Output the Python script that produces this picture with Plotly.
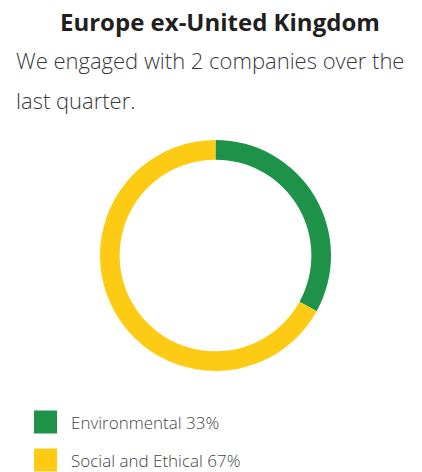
import plotly.graph_objects as go

title_text = "Europe ex-United Kingdom"
subtitle_lines = ["We engaged with 2 companies over the", "last quarter."]
labels = ["Environmental", "Social and Ethical"]
values = [33, 67]
colors = ["#1F924A", "#FDCB14"]

W, H = 422, 472
OFF = 8  # page body margin
cx, cy, r = 215.5 - OFF, 255.5 - OFF, 115.5


def px(x):
    return (x - OFF) / W


def py(y):
    return 1 - (y - OFF) / H


fig = go.Figure()
fig.add_trace(go.Pie(
    labels=labels, values=values, hole=0.83, sort=False, direction="clockwise",
    rotation=0, textinfo="none", hoverinfo="label+percent",
    marker=dict(colors=colors, line=dict(width=0)),
    domain=dict(x=[(cx - r) / W, (cx + r) / W], y=[1 - (cy + r) / H, 1 - (cy - r) / H]),
    showlegend=False,
))

annotations = [
    dict(text=f"<b>{title_text}</b>", x=px(220), y=py(21), xref="paper", yref="paper",
         showarrow=False, xanchor="center", yanchor="middle",
         font=dict(family="Open Sans", size=24, color="#231F20")),
]
for i, line in enumerate(subtitle_lines):
    annotations.append(dict(text=line, x=px(14), y=py(60 + 40 * i), xref="paper", yref="paper",
                            showarrow=False, xanchor="left", yanchor="middle",
                            font=dict(family="Open Sans", size=22, color="#3A3A3A", weight=300)))

shapes = []
for i, (lab, val, col) in enumerate(zip(labels, values, colors)):
    yc = 422 + 38 * i
    shapes.append(dict(type="rect", xref="paper", yref="paper",
                       x0=px(34), x1=px(57), y0=py(yc + 11.5), y1=py(yc - 11.5),
                       fillcolor=col, line=dict(width=0)))
    annotations.append(dict(text=f"{lab} {val}%", x=px(69), y=py(yc), xref="paper", yref="paper",
                            showarrow=False, xanchor="left", yanchor="middle",
                            font=dict(family="Open Sans", size=17, color="#444444", weight=300)))

fig.update_layout(width=W, height=H, margin=dict(l=0, r=0, t=0, b=0),
                  paper_bgcolor="white", plot_bgcolor="white",
                  annotations=annotations, shapes=shapes)
fig.write_html("out.html")
